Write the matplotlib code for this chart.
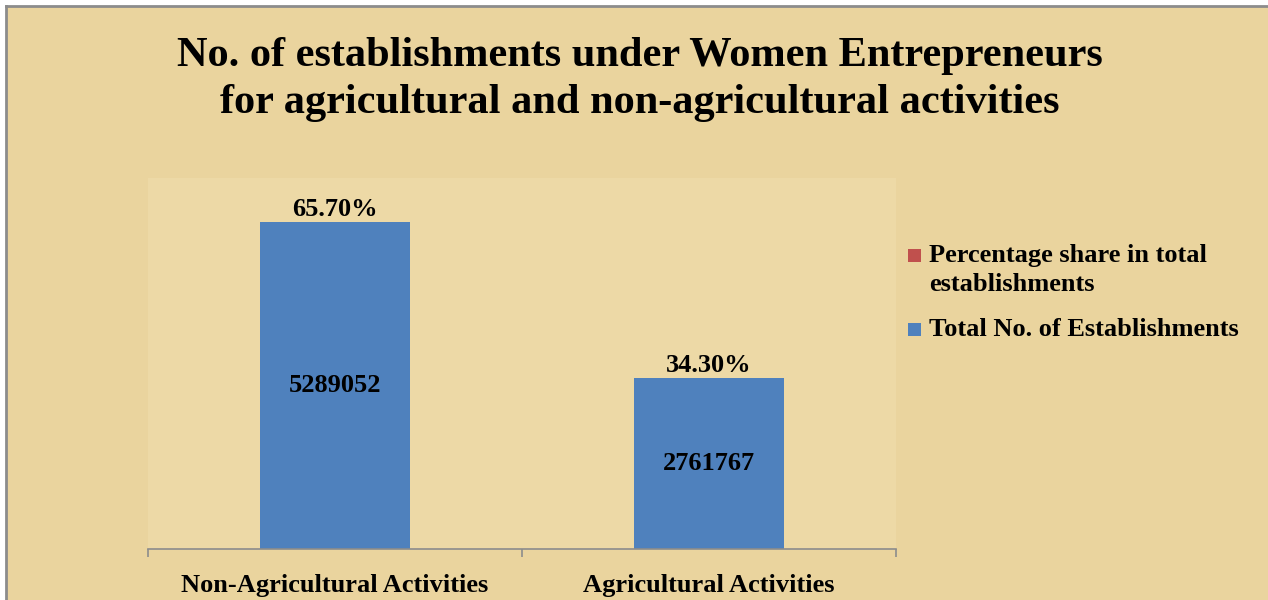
import matplotlib
matplotlib.use("Agg")
import matplotlib.pyplot as plt
from matplotlib.lines import Line2D

categories = ["Non-Agricultural Activities", "Agricultural Activities"]
total_establishments = [5289052, 2761767]
percentage_share = [65.70, 34.30]
pct_labels = ["65.70%", "34.30%"]
series_names = ["Percentage share in total\nestablishments", "Total No. of Establishments"]
title_lines = ["No. of establishments under Women Entrepreneurs",
               "for agricultural and non-agricultural activities"]

BG = "#EAD49E"
AXBG = "#EDD9A6"
BLUE = "#4F81BD"
RED = "#C0504D"
FS = 19

plt.rcParams["font.family"] = ["Liberation Serif", "DejaVu Serif"]
plt.rcParams["font.weight"] = "bold"

W, H = 1268, 600
fig = plt.figure(figsize=(W / 100, H / 100), dpi=100, facecolor="white")
fig.patches.append(plt.Rectangle((6 / W, 0), 1, 1 - 6 / H, transform=fig.transFigure,
                                 facecolor=BG, edgecolor="none", zorder=-5))
fig.add_artist(Line2D([6 / W, 6 / W], [0, 1 - 6 / H], transform=fig.transFigure,
                      color="#8C8C8C", lw=2, zorder=5))
fig.add_artist(Line2D([6 / W, 1], [1 - 6 / H, 1 - 6 / H], transform=fig.transFigure,
                      color="#8C8C8C", lw=2, zorder=5))

ax = fig.add_axes([148 / W, 1 - 549 / H, (896 - 148) / W, (549 - 178) / H])
ax.set_zorder(1)
ax.set_facecolor(AXBG)
x = list(range(len(categories)))
ax.bar(x, total_establishments, width=0.4, color=BLUE, zorder=2)
ax.bar(x, percentage_share, bottom=total_establishments, width=0.4, color=RED, zorder=2)

for xi, tot, pl in zip(x, total_establishments, pct_labels):
    ax.text(xi, tot / 2, f"{tot}", ha="center", va="center", fontsize=FS,
            fontweight="bold", color="black", zorder=3)
    ax.annotate(pl, (xi, tot), xytext=(0, 9), textcoords="offset points",
                ha="center", va="center", fontsize=FS, fontweight="bold")

ax.set_xlim(-0.5, 1.5)
ax.set_ylim(0, 6000000)
for s in ["top", "right", "left"]:
    ax.spines[s].set_visible(False)
ax.spines["bottom"].set_color("#8C8C8C")
ax.spines["bottom"].set_linewidth(1.2)
ax.set_yticks([])
ax.set_xticks([-0.5, 0.5, 1.5])
ax.set_xticklabels([])
ax.tick_params(axis="x", which="major", length=6, color="#8C8C8C", width=1.2, direction="out")
ax.set_xticks(x, minor=True)
ax.set_xticklabels(categories, minor=True, fontsize=FS, fontweight="bold")
ax.tick_params(axis="x", which="minor", length=0, pad=18)

for yy, line in zip([56, 103], title_lines):
    fig.text(640 / W, 1 - yy / H, line, ha="center", va="center",
             fontsize=30.5, fontweight="bold")

# legend (drawn manually to keep the marker on the first line of a wrapped label)
leg_colors = [RED, BLUE]
leg_tops = [244, 318]
for col, name, top in zip(leg_colors, series_names, leg_tops):
    fig.patches.append(plt.Rectangle((908 / W, 1 - (top + 18) / H), 13 / W, 13 / H,
                                     transform=fig.transFigure, facecolor=col,
                                     edgecolor="none", zorder=3))
    fig.text(929 / W, 1 - top / H, name, ha="left", va="top", fontsize=FS,
             fontweight="bold", linespacing=1.32)

fig.savefig("out.png", dpi=100, facecolor="white")
